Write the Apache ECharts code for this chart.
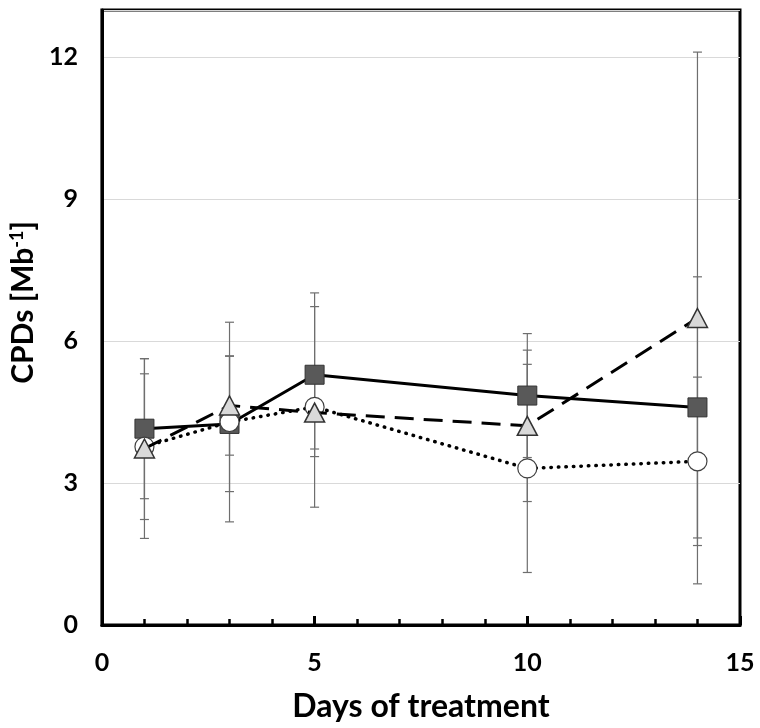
<!DOCTYPE html>
<html>
<head>
<meta charset="utf-8">
<script src="https://cdn.jsdelivr.net/npm/echarts@6/dist/echarts.min.js"></script>
<style>html,body{margin:0;padding:0;background:#fff;}#c{width:760px;height:728px;}</style>
</head>
<body>
<div id="c"></div>
<script>
const days = [1, 3, 5, 10, 14];
const squareMean = [4.15, 4.25, 5.29, 4.85, 4.60];
const squareSd   = [1.48, 1.43, 1.73, 1.31, 2.76];
const triMean    = [3.73, 4.64, 4.49, 4.21, 6.49];
const triSd      = [1.90, 1.05, 0.77, 1.60, 5.62];
const circMean   = [3.77, 4.29, 4.61, 3.31, 3.46];
const circSd     = [1.54, 2.11, 2.12, 2.20, 1.78];
const xTicks = [0, 5, 10, 15];
const yTicks = [0, 3, 6, 9, 12];
const xTitle = 'Days of treatment';
const yTitle = 'CPDs [Mb';

const FONT = 'Lato';

function pairs(m) { return days.map((d, i) => [d, m[i]]); }
function errData(m, s) { return days.map((d, i) => [d, m[i] - s[i], m[i] + s[i]]); }

function errSeries(m, s) {
  return {
    type: 'custom',
    z: 1,
    silent: true,
    data: errData(m, s),
    encode: { x: 0, y: [1, 2] },
    renderItem: function (params, api) {
      const x = api.value(0);
      const lo = api.coord([x, api.value(1)]);
      const hi = api.coord([x, api.value(2)]);
      const w = 4.5;
      const st = { stroke: '#6e6e6e', lineWidth: 1.2 };
      return {
        type: 'group',
        children: [
          { type: 'line', shape: { x1: lo[0], y1: lo[1], x2: hi[0], y2: hi[1] }, style: st },
          { type: 'line', shape: { x1: lo[0] - w, y1: lo[1], x2: lo[0] + w, y2: lo[1] }, style: st },
          { type: 'line', shape: { x1: hi[0] - w, y1: hi[1], x2: hi[0] + w, y2: hi[1] }, style: st }
        ]
      };
    }
  };
}

const chart = echarts.init(document.getElementById('c'), null, { renderer: 'canvas' });
chart.setOption({
  animation: false,
  backgroundColor: '#fff',
  grid: { left: 97, right: 20, top: 10, bottom: 102, show: true, borderColor: '#000', borderWidth: 3, backgroundColor: 'transparent' },
  xAxis: {
    type: 'value', min: 0, max: 15, interval: 5,
    axisLine: { lineStyle: { color: '#000', width: 3 } },
    axisTick: { show: true, inside: true, length: 9, lineStyle: { color: '#000', width: 3 } },
    minorTick: { show: true, splitNumber: 5, length: 6, lineStyle: { color: '#000', width: 2.5 } },
    splitLine: { show: false },
    axisLabel: { color: '#000', fontFamily: FONT, fontWeight: 'bold', fontSize: 25, margin: 25,
      formatter: v => xTicks.includes(v) ? String(v) : '' },
    name: xTitle, nameLocation: 'middle', nameGap: 66,
    nameTextStyle: { color: '#000', fontFamily: FONT, fontWeight: 'bold', fontSize: 32 }
  },
  yAxis: {
    type: 'value', min: 0, max: 13, interval: 3,
    axisLine: { show: true, lineStyle: { color: '#000', width: 3 } },
    axisTick: { show: false },
    splitLine: { show: true, lineStyle: { color: '#d9d9d9', width: 1.2 } },
    axisLabel: { color: '#000', fontFamily: FONT, fontWeight: 'bold', fontSize: 25, margin: 24, showMaxLabel: false,
      formatter: v => yTicks.includes(v) ? String(v) : '' },
    name: '{b|' + yTitle + '}{s|-1}{b|]}', nameLocation: 'middle', nameGap: 55, nameRotate: 90,
    nameTextStyle: {
      padding: [0, 0, 0, 30],
      rich: {
        b: { color: '#000', fontFamily: FONT, fontWeight: 'bold', fontSize: 30 },
        s: { color: '#000', fontFamily: FONT, fontWeight: 'bold', fontSize: 18, verticalAlign: 'top', padding: [0, 0, 12, 0] }
      }
    }
  },
  series: [
    errSeries(squareMean, squareSd),
    errSeries(triMean, triSd),
    errSeries(circMean, circSd),
    {
      type: 'line', z: 2, data: pairs(squareMean),
      symbol: 'rect', symbolSize: 19,
      lineStyle: { color: '#000', width: 3 },
      itemStyle: { color: '#595959', borderColor: '#333', borderWidth: 1 }
    },
    {
      type: 'line', z: 3, data: pairs(circMean),
      symbol: 'circle', symbolSize: 19,
      lineStyle: { color: '#000', width: 3.5, type: [0.5, 7], cap: 'round' },
      itemStyle: { color: '#fff', borderColor: '#404040', borderWidth: 1.2 }
    },
    {
      type: 'line', z: 4, data: pairs(triMean),
      symbol: 'triangle', symbolSize: [20, 19],
      lineStyle: { color: '#000', width: 3, type: [19, 10] },
      itemStyle: { color: '#d9d9d9', borderColor: '#333', borderWidth: 1.5 }
    }
  ]
});
</script>
</body>
</html>
